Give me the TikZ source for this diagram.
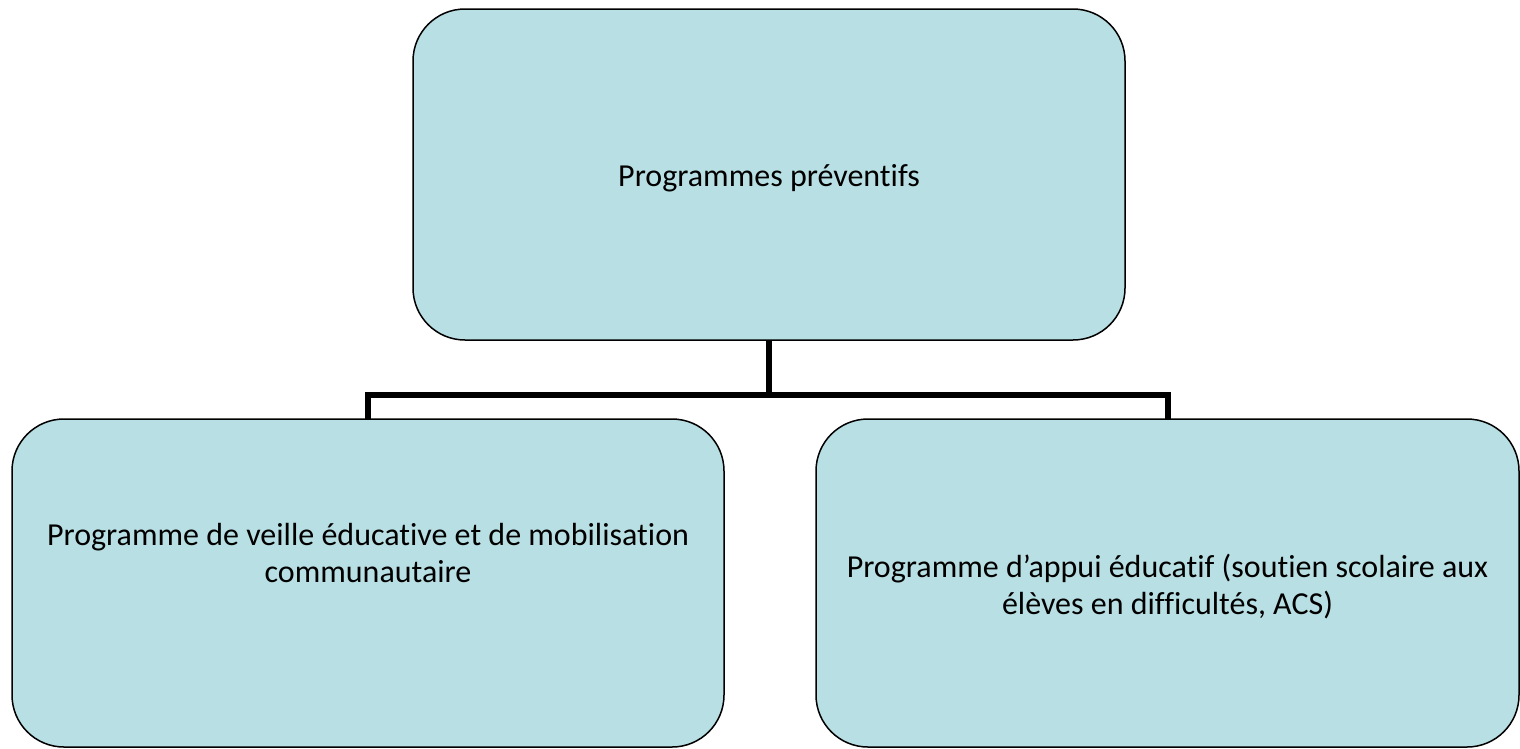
\documentclass[tikz,border=0pt]{standalone}
\usepackage{fontspec}
\setmainfont{Carlito}[RawFeature={-liga;-clig;-dlig}]
\definecolor{boxfill}{RGB}{184,223,227}
\begin{document}
\begin{tikzpicture}[x=1pt,y=-1pt,
  box/.style={draw=black,line width=1.5pt,fill=boxfill,rounded corners=52pt,
    rectangle,inner sep=0pt,outer sep=0pt},
  lbl/.style={anchor=base,inner sep=0pt,font=\fontsize{32}{39}\selectfont},
  conn/.style={line width=6pt,line join=miter,draw=black}]
\useasboundingbox (0,0) rectangle (1520,748);
\node[box,minimum width=712pt,minimum height=331pt] (top) at (769,174.5) {};
\node[box,minimum width=712pt,minimum height=328pt] (left) at (368,583) {};
\node[box,minimum width=703pt,minimum height=328pt] (right) at (1167.5,583) {};
\node[lbl] (t1) at (769,186) {Programmes préventifs};
\node[lbl] (l1) at (368,545) {Programme de veille éducative et de mobilisation};
\node[lbl] (l2) at (368,582) {communautaire};
\node[lbl] (r1) at (1167.5,577) {Programme d’appui éducatif (soutien scolaire aux};
\node[lbl] (r2) at (1167.5,614) {élèves en difficultés, ACS)};
\coordinate (j) at (769,395);
\draw[conn] (top.south) -- (j);
\draw[conn] (left.north) |- (j) -| (right.north);
\end{tikzpicture}
\end{document}
